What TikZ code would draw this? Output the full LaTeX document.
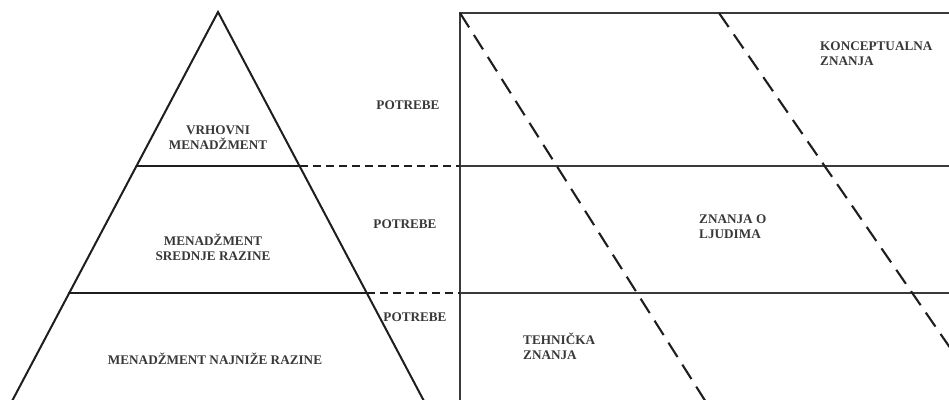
\documentclass[tikz,border=0pt]{standalone}
\usepackage{fontspec}
\setmainfont{Liberation Serif}
\usepackage{tikz}
\usetikzlibrary{positioning,calc}
\usepackage{xcolor}
\definecolor{ink}{HTML}{1E1E1E}
\definecolor{frame}{HTML}{3A3A3A}
\definecolor{label}{HTML}{383838}
\tikzset{
  every node/.style={font=\fontsize{13.2}{15}\selectfont\bfseries,text=label,inner sep=0pt},
  edge/.style={draw=ink,line width=2pt},
  grid/.style={draw=frame,line width=2pt},
  link/.style={draw=ink,line width=1.9pt,dash pattern=on 8pt off 5pt},
  slant/.style={draw=ink,line width=2.1pt,dash pattern=on 17pt off 9pt},
  level/.style={align=center},
  skill/.style={align=left,anchor=west},
}
\begin{document}
\begin{tikzpicture}[x=1pt,y=-1pt]
\useasboundingbox (0,0) rectangle (949,399);
\clip (0,0) rectangle (949,399);

% ---------- pyramid ----------
\coordinate (apex) at (218,12);
\coordinate (bl) at (2,420);
\coordinate (br) at (434,420);
\coordinate (l1) at (137,166);
\coordinate (r1) at (300,166);
\coordinate (l2) at (68,293);
\coordinate (r2) at (367,293);
\draw[edge] (bl) -- (apex) -- (br);
\draw[edge] (l1) -- (r1);
\draw[edge] (l2) -- (r2);

\node[level] (top) at (218,138) {VRHOVNI\\MENAD\v{Z}MENT};
\node[level] (middle) at (213,247) {MENAD\v{Z}MENT\\SREDNJE RAZINE};
\node[level] (lower) at (215,359) {MENAD\v{Z}MENT NAJNI\v{Z}E RAZINE};

\node (needA) at (408,105) {POTREBE};
\node (needB) at (405,224) {POTREBE};
\node (needC) at (415,317) {POTREBE};

% ---------- skills grid ----------
\coordinate (gtl) at (460,13);
\coordinate (gtr) at (960,13);
\coordinate (gbl) at (460,410);
\coordinate (g1) at (460,166);
\coordinate (g1r) at (960,166);
\coordinate (g2) at (460,293);
\coordinate (g2r) at (960,293);
\draw[grid] (gtr) -- (gtl) -- (gbl);
\draw[grid] (g1) -- (g1r);
\draw[grid] (g2) -- (g2r);

\draw[link] (r1) -- (g1);
\draw[link] (r2) -- (g2);

\coordinate (d1a) at (460,13);
\coordinate (d1b) at (711,410);
\coordinate (d2a) at (719,13);
\coordinate (d2b) at (993,410);
\draw[slant] (d1a) -- (d1b);
\draw[slant] (d2a) -- (d2b);

\node[skill] (concept) at (820,54) {KONCEPTUALNA\\ZNANJA};
\node[skill] (people) at (699,227) {ZNANJA O\\LJUDIMA};
\node[skill] (tech) at (523,346) {TEHNI\v{C}KA\\ZNANJA};

\end{tikzpicture}
\end{document}
